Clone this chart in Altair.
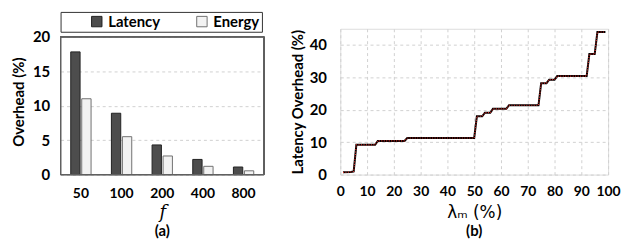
import altair as alt
import pandas as pd

# ---- data (a) ----
f_vals = ["50", "100", "200", "400", "800"]
latency = [17.8, 8.9, 4.3, 2.2, 1.1]
energy = [11.0, 5.5, 2.7, 1.2, 0.55]
a_ticks = [0, 5, 10, 15, 20]

# ---- data (b) ----
lam_x = [1, 4, 5, 6, 13, 14, 24, 25, 50, 51, 53, 54, 56, 57, 62, 63, 74, 75, 77, 78, 80, 81, 92, 93, 95, 96, 99]
lat_y = [0.7, 0.8, 1.0, 9.2, 9.2, 10.4, 10.4, 11.3, 11.3, 18.0, 18.0, 19.1, 19.1, 20.3, 20.3, 21.4, 21.4, 28.2, 28.2, 29.3, 29.3, 30.4, 30.4, 37.2, 37.2, 44.0, 44.0]
b_xticks = list(range(0, 101, 10))
b_yticks = [0, 10, 20, 30, 40]

FONT = "Lato"
FRAME = "#606060"
GRID = "#d0d0d0"
H = 147
W_A = 205
W_B = 270

rows = []
for f, l, e in zip(f_vals, latency, energy):
    rows.append({"f": f, "series": "Latency", "v": l})
    rows.append({"f": f, "series": "Energy", "v": e})
dfa = pd.DataFrame(rows)
dfb = pd.DataFrame({"x": lam_x, "y": lat_y})

grid_dash = [3, 3]
# left plot area is slightly taller than its frame (0..20) so both panels share one origin
a_top = 20 * 147 / 139

yscale_a = alt.Scale(domain=[0, a_top], nice=False)
yaxis_a = alt.Axis(title="Overhead  (%)", values=a_ticks, ticks=False, domain=False,
                   labelPadding=11, labelFontSize=15, labelFontWeight="bold", labelFont=FONT,
                   labelColor="black", titleFont=FONT, titleFontSize=15, titleFontWeight="bold",
                   titleColor="black", titlePadding=6, labelOverlap=False,
                   grid=True, gridDash=grid_dash, gridColor=GRID)

bars = alt.Chart(dfa).mark_bar(strokeWidth=1).encode(
    x=alt.X("f:N", sort=f_vals, scale=alt.Scale(paddingInner=0.5, paddingOuter=0.25),
            axis=alt.Axis(title="f", labelAngle=0, ticks=False, domain=False, labelPadding=12,
                          labelFontSize=14, labelFontWeight="bold", labelFont=FONT, labelColor="black",
                          titleFont="DejaVu Serif", titleFontStyle="italic", titleFontWeight="normal",
                          titleFontSize=18, titlePadding=3, titleColor="black")),
    xOffset=alt.XOffset("series:N", sort=["Latency", "Energy"], scale=alt.Scale(paddingInner=0.15)),
    y=alt.Y("v:Q", scale=yscale_a, axis=yaxis_a),
    color=alt.Color("series:N", sort=["Latency", "Energy"],
                    scale=alt.Scale(domain=["Latency", "Energy"], range=["#4d4d4d", "#f2f2f2"]),
                    legend=alt.Legend(title=None, orient="none", legendX=0, legendY=-17, direction="horizontal",
                                      strokeColor="#333333", padding=2, symbolType="square", symbolSize=110,
                                      symbolStrokeColor="#333333", symbolStrokeWidth=1, symbolOffset=27,
                                      columnPadding=7, labelFontSize=15, labelFont=FONT,
                                      labelFontWeight="bold", labelColor="black", labelOffset=4)),
    stroke=alt.Stroke("series:N", sort=["Latency", "Energy"],
                      scale=alt.Scale(domain=["Latency", "Energy"], range=["#222222", "#707070"]),
                      legend=None),
)

frame = alt.Chart(dfa).mark_rect(fill="transparent", stroke=FRAME, strokeWidth=1).encode(
    x=alt.value(0), x2=alt.value(W_A),
    y=alt.YDatum(0, scale=yscale_a, axis=yaxis_a), y2=alt.datum(20),
)

left = alt.layer(bars, frame).properties(
    width=W_A, height=H,
    title=alt.TitleParams("(a)", orient="bottom", fontSize=15, font=FONT, fontWeight="bold", offset=3),
    view=alt.ViewBackground(strokeOpacity=0),
)

xenc = alt.X("x:Q", scale=alt.Scale(domain=[0, 100], nice=False),
             axis=alt.Axis(title="λₘ  (%)", values=b_xticks, ticks=False, domain=False,
                           labelPadding=10, labelFontSize=14, labelFontWeight="bold", labelFont=FONT,
                           labelColor="black", titleFont="DejaVu Sans", titleFontWeight="normal",
                           titleFontSize=17, titleColor="black", titlePadding=6,
                           labelOverlap=False, labelFlush=False,
                           grid=True, gridDash=grid_dash, gridColor=GRID))
yenc = alt.Y("y:Q", scale=alt.Scale(domain=[0, 45], nice=False),
             axis=alt.Axis(title="Latency Overhead (%)", values=b_yticks, ticks=False, domain=False,
                           labelPadding=14, labelFontSize=15, labelFontWeight="bold", labelFont=FONT,
                           labelColor="black", titleFont=FONT, titleFontSize=15, titleFontWeight="bold",
                           titleColor="black", titlePadding=4, labelOverlap=False, labelFlush=False,
                           grid=True, gridDash=grid_dash, gridColor=GRID))
base = alt.Chart(dfb).encode(x=xenc, y=yenc)
line_black = base.mark_line(color="black", strokeWidth=2)
line_red = base.mark_line(color="#e0302a", strokeWidth=1.2, strokeDash=[1, 1.5])
right = alt.layer(line_black, line_red).properties(
    width=W_B, height=H,
    title=alt.TitleParams("(b)", orient="bottom", fontSize=15, font=FONT, fontWeight="bold", offset=4),
)

chart = alt.hconcat(left, right, spacing=25).properties(
    padding={"left": 3, "top": 2, "right": 0, "bottom": 0}
).configure_view(
    stroke=FRAME, strokeWidth=1
).configure(background="white")

chart.save("out.html", embed_options={"renderer": "svg", "actions": False})
